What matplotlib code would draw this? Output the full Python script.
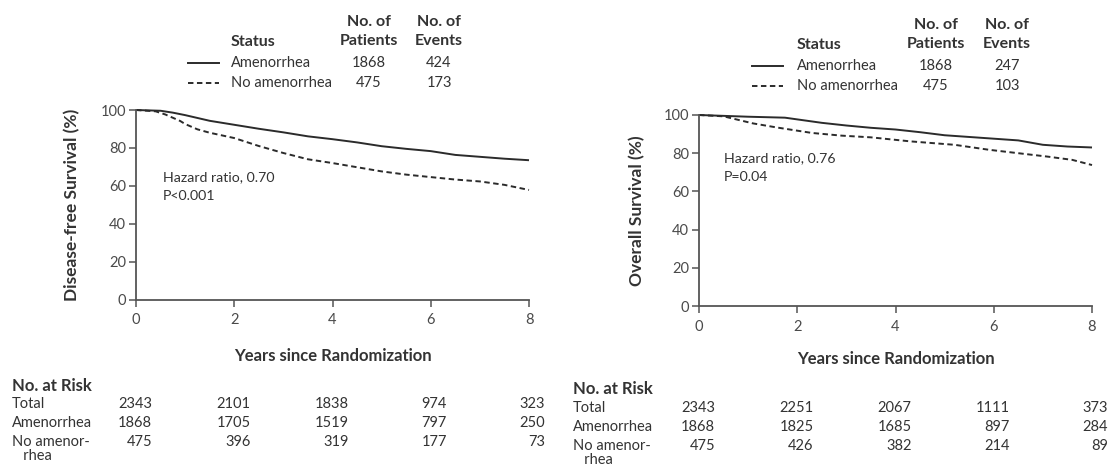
import matplotlib
matplotlib.use("Agg")
import matplotlib.pyplot as plt
from matplotlib.transforms import Affine2D, blended_transform_factory
from matplotlib.lines import Line2D

# ---- data -------------------------------------------------------------
years_ticks = [0, 2, 4, 6, 8]
surv_ticks = [0, 20, 40, 60, 80, 100]

dfs_years_amen = [0, 0.5, 0.75, 1, 1.25, 1.5, 2, 2.5, 3, 3.5, 4, 4.5, 5, 5.5, 6, 6.5, 7, 7.5, 8]
dfs_amen = [100, 99.6, 98.6, 97.3, 95.8, 94.3, 92.2, 90.1, 88.2, 86.1, 84.6, 82.9, 80.9, 79.5,
            78.3, 76.3, 75.3, 74.3, 73.5]
dfs_years_noamen = [0, 0.4, 0.6, 0.9, 1, 1.25, 1.5, 2, 2.5, 3, 3.5, 4, 4.5, 5, 5.5, 6, 6.5, 7, 7.5, 8]
dfs_noamen = [100, 99.3, 97.6, 94.2, 92.6, 89.8, 88.0, 85.2, 81.0, 77.3, 74.0, 72.0, 69.8, 67.6,
              65.9, 64.6, 63.3, 62.3, 60.5, 57.8]

os_years_amen = [0, 1, 1.75, 2, 2.5, 3, 3.5, 4, 4.5, 5, 5.5, 6, 6.5, 7, 7.5, 8]
os_amen = [100, 99.1, 98.6, 97.7, 95.9, 94.5, 93.3, 92.4, 91.0, 89.4, 88.5, 87.6, 86.7, 84.4, 83.5, 83.0]
os_years_noamen = [0, 0.5, 1.1, 1.6, 2.3, 2.9, 3.5, 4.3, 5.2, 5.9, 6.5, 7.1, 7.6, 8]
os_noamen = [100, 99.3, 95.6, 93.4, 90.6, 89.2, 88.3, 86.2, 84.4, 81.8, 80.0, 78.2, 76.5, 73.8]

groups = ["Amenorrhea", "No amenorrhea"]
dfs_patients = [1868, 475]
dfs_events = [424, 173]
os_patients = [1868, 475]
os_events = [247, 103]

risk_rows = ["Total", "Amenorrhea", "No amenor-\n   rhea"]
dfs_risk = [[2343, 2101, 1838, 974, 323],
            [1868, 1705, 1519, 797, 250],
            [475, 396, 319, 177, 73]]
os_risk = [[2343, 2251, 2067, 1111, 373],
           [1868, 1825, 1685, 897, 284],
           [475, 426, 382, 214, 89]]

dfs_hr = ["Hazard ratio, 0.70", "P<0.001"]
os_hr = ["Hazard ratio, 0.76", "P=0.04"]

# ---- style -------------------------------------------------------------
W, H = 1109, 474
FONT = ["Lato", "DejaVu Sans"]
plt.rcParams["font.family"] = FONT
TXT = "#333333"
LINE = "#2b2b2b"
AXC = "#555555"
FS = 10.5        # regular text
FB = 12          # bold headings
DASH = (0, (2.8, 1.8))

fig = plt.figure(figsize=(W / 100, H / 100), dpi=100)
fig.patch.set_facecolor("white")
# pixel coordinates with origin at the top-left corner
px = Affine2D().scale(1 / W, -1 / H).translate(0, 1) + fig.transFigure


def km_panel(rect, ylabel, ylab_x, xlab_y, curves, hr_text, hr_pos):
    ax = fig.add_axes(rect)
    for xs, ys, ls in curves:
        ax.plot(xs, ys, color=LINE, lw=1.4, linestyle=ls, clip_on=False,
                solid_capstyle="butt")
    ax.set_xlim(0, 8)
    ax.set_ylim(0, 100)
    ax.set_xticks(years_ticks)
    ax.set_yticks(surv_ticks)
    for s in ("top", "right"):
        ax.spines[s].set_visible(False)
    for s in ("left", "bottom"):
        ax.spines[s].set_color(AXC)
        ax.spines[s].set_linewidth(1.3)
    ax.tick_params(direction="out", length=5, width=1.1, color=AXC,
                   labelsize=FS, labelcolor="#4a4a4a")
    ax.tick_params(axis="y", pad=2)
    ax.tick_params(axis="x", pad=5)
    ax.set_ylabel(ylabel, fontsize=FB + 0.5, fontweight="bold", color=TXT)
    ax.yaxis.set_label_coords(ylab_x, 0.5)
    ax.set_xlabel("Years since Randomization", fontsize=FB,
                  fontweight="bold", color=TXT)
    ax.xaxis.set_label_coords(0.5, xlab_y)
    (hx, hy1, hy2) = hr_pos
    ax.text(hx, hy1, hr_text[0], fontsize=FS - 0.3, color=TXT, va="center")
    ax.text(hx, hy2, hr_text[1], fontsize=FS - 0.3, color=TXT, va="center")
    return ax


def legend_block(x_line, x_text, x_pat, x_evt, y_top, patients, events):
    # column headers
    fig.text(x_text, y_top + 20, "Status", transform=px, fontsize=FB - 0.5,
             fontweight="bold", color=TXT, va="center")
    for xc, lab in ((x_pat, "Patients"), (x_evt, "Events")):
        fig.text(xc, y_top, "No. of", transform=px, fontsize=FB - 0.5,
                 fontweight="bold", color=TXT, va="center", ha="center")
        fig.text(xc, y_top + 19, lab, transform=px, fontsize=FB - 0.5,
                 fontweight="bold", color=TXT, va="center", ha="center")
    for i, (g, ls) in enumerate(zip(groups, ["-", DASH])):
        y = y_top + 41 + 20 * i
        fig.add_artist(Line2D([x_line[0], x_line[1]], [y, y], transform=px,
                              color=LINE, lw=1.4, linestyle=ls))
        fig.text(x_text, y, g, transform=px, fontsize=FS, color=TXT, va="center")
        fig.text(x_pat, y, f"{patients[i]}", transform=px, fontsize=FS,
                 color=TXT, va="center", ha="center")
        fig.text(x_evt, y, f"{events[i]}", transform=px, fontsize=FS,
                 color=TXT, va="center", ha="center")


def risk_table(ax, x_lab, y_head, rows_y, table):
    fig.text(x_lab, y_head, "No. at Risk", transform=px, fontsize=FB,
             fontweight="bold", color=TXT, va="center")
    tr = blended_transform_factory(ax.transData, px)
    for r, (lab, vals) in enumerate(zip(risk_rows, table)):
        y = rows_y[r]
        fig.text(x_lab, y, lab, transform=px, fontsize=FS, color=TXT,
                 va="top", linespacing=1.0)
        for t, v in zip(years_ticks, vals):
            ax.text(t + 0.33, y, f"{v}", transform=tr, fontsize=FS, color=TXT,
                    va="top", ha="right", clip_on=False)


axL = km_panel([136 / W, 1 - 299.5 / H, 393 / W, 189.5 / H],
               "Disease-free Survival (%)", -0.142, -0.255,
               [(dfs_years_amen, dfs_amen, "-"), (dfs_years_noamen, dfs_noamen, DASH)],
               dfs_hr, (0.54, 64.7, 54.6))
axR = km_panel([699 / W, 1 - 306 / H, 393 / W, 191 / H],
               "Overall Survival (%)", -0.137, -0.235,
               [(os_years_amen, os_amen, "-"), (os_years_noamen, os_noamen, DASH)],
               os_hr, (0.51, 77.5, 67.5))

legend_block((188, 219), 231, 369, 439, 22, dfs_patients, dfs_events)
legend_block((752, 783), 797, 936, 1007, 25, os_patients, os_events)

risk_table(axL, 12, 386, [397, 416, 435], dfs_risk)
risk_table(axR, 573, 389, [401, 420, 439], os_risk)

fig.savefig("out.png", dpi=100, facecolor="white")
